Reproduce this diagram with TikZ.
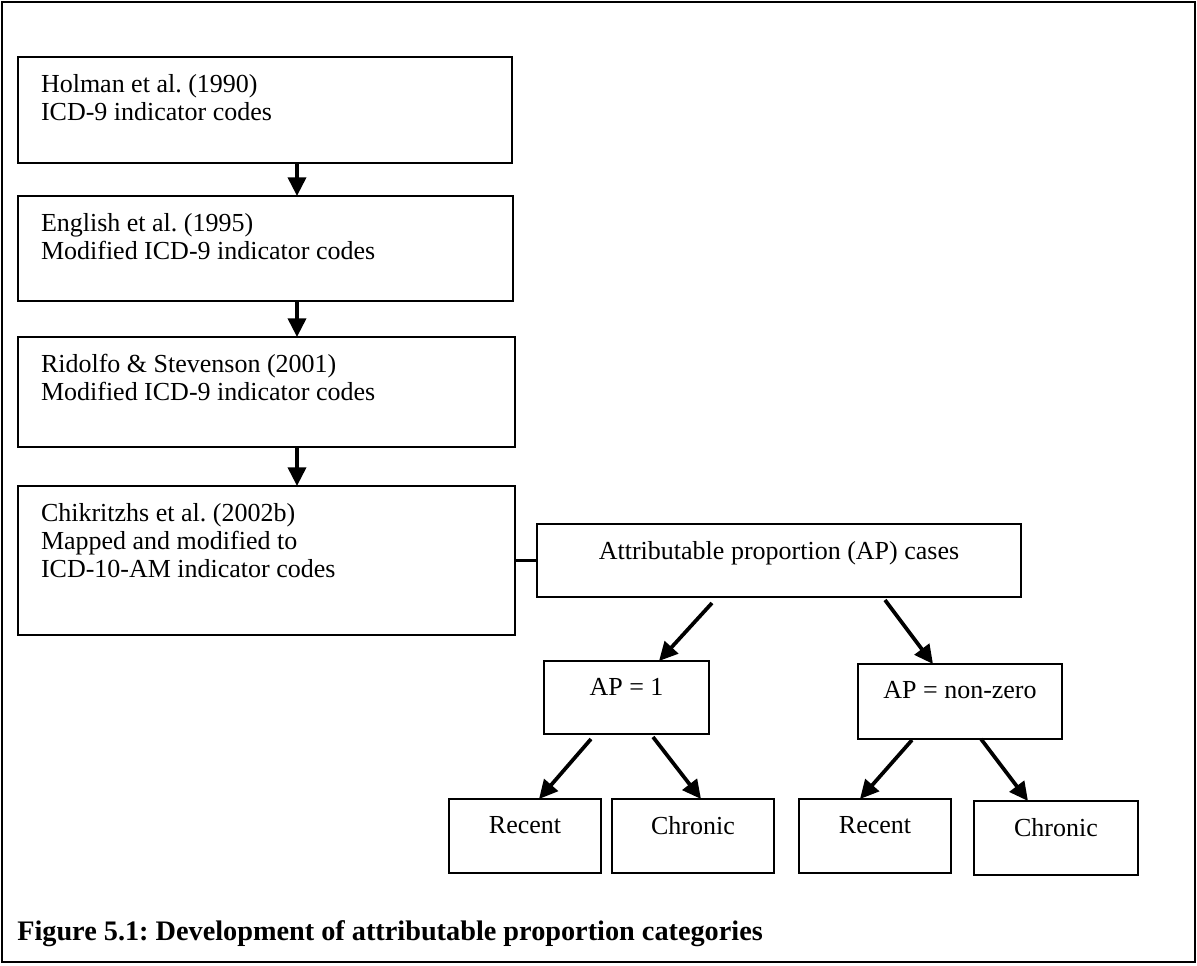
\documentclass[tikz,border=0pt]{standalone}
\usepackage{fontspec}
\setmainfont{Liberation Serif}
\usetikzlibrary{arrows.meta,calc}
\frenchspacing
\newdimen\pxu \pxu=0.75pt
% left-aligned, top-aligned box content: width, height, text
\newcommand\lcont[3]{\parbox[c][#2\pxu][t]{#1\pxu}{\frenchspacing\leftskip=23\pxu\parindent=0pt\vspace*{17\pxu}#3\par}}
% centred, top-aligned box content: width, height, text
\newcommand\ccont[3]{\parbox[c][#2\pxu][t]{#1\pxu}{\frenchspacing\centering\vspace*{17\pxu}#3\par}}
\tikzset{
  bx/.style={draw, line width=1.5pt, inner sep=0pt, outer sep=0pt, anchor=north west},
  arr/.style={line width=2.8pt, -{Triangle[length=14pt,width=13.5pt]}},
  link/.style={line width=2.6pt},
  frame/.style={line width=1.6pt},
}
\begin{document}
\begin{tikzpicture}[x=0.75pt,y=-0.75pt,font=\fontsize{19.5pt}{21pt}\selectfont]
\useasboundingbox (0,0) rectangle (1197,965);
\draw[frame] (2,2) rectangle (1195,962);

% left column
\node[bx] (b1) at (18,57)  {\lcont{494}{106}{Holman et al. (1990)\\ICD-9 indicator codes}};
\node[bx] (b2) at (18,196) {\lcont{495}{105}{English et al. (1995)\\Modified ICD-9 indicator codes}};
\node[bx] (b3) at (18,337) {\lcont{497}{110}{Ridolfo \& Stevenson (2001)\\Modified ICD-9 indicator codes}};
\node[bx] (b4) at (18,486) {\lcont{497}{149}{Chikritzhs et al. (2002b)\\Mapped and modified to\\ICD-10-AM indicator codes}};

\draw[arr] ($(b1.south west)+(279,0)$) -- ($(b2.north west)+(279,0)$);
\draw[arr] ($(b2.south west)+(279,0)$) -- ($(b3.north west)+(279,0)$);
\draw[arr] ($(b3.south west)+(279,0)$) -- ($(b4.north west)+(279,0)$);

% AP tree
\node[bx] (ap)  at (537,524) {\ccont{484}{73}{Attributable proportion (AP) cases}};
\draw[link] (b4.east |- ap.west) -- (ap.west);

\node[bx] (ap1) at (544,661) {\ccont{165}{73}{AP = 1}};
\node[bx] (ap0) at (858,664) {\ccont{204}{75}{AP = non-zero}};

\node[bx] (r1) at (449,799) {\ccont{152}{74}{Recent}};
\node[bx] (c1) at (612,799) {\ccont{162}{74}{Chronic}};
\node[bx] (r2) at (799,799) {\ccont{152}{74}{Recent}};
\node[bx] (c2) at (974,801) {\ccont{164}{74}{Chronic}};

\draw[arr] ($(ap.south west)+(175,6)$) -- ($(ap1.north west)+(115,0)$);
\draw[arr] ($(ap.south west)+(348,3)$) -- ($(ap0.north west)+(75,0)$);
\draw[arr] ($(ap1.south west)+(47,5)$) -- ($(r1.north west)+(90,0)$);
\draw[arr] ($(ap1.south west)+(109,3)$) -- ($(c1.north west)+(89,0)$);
\draw[arr] ($(ap0.south west)+(54,1)$) -- ($(r2.north west)+(61,0)$);
\draw[arr] ($(ap0.south west)+(123,0)$) -- ($(c2.north west)+(54,0)$);

% caption
\node[anchor=base west, inner sep=0pt, font=\fontsize{21.2pt}{25pt}\selectfont\bfseries] (cap) at (17,940)
  {Figure 5.1: Development of attributable proportion categories};
\end{tikzpicture}
\end{document}
